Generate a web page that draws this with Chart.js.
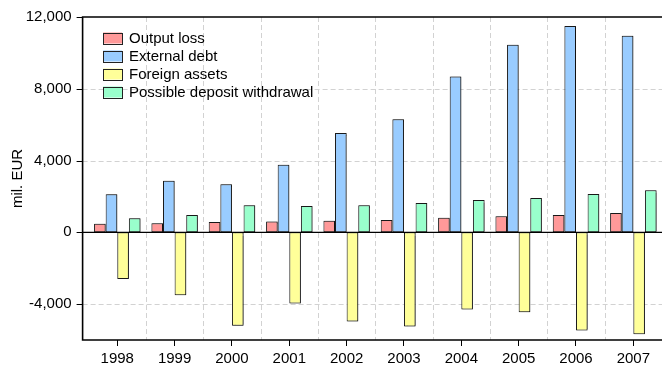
<!DOCTYPE html>
<html>
<head>
<meta charset="utf-8">
<script src="https://cdn.jsdelivr.net/npm/chart.js@4/dist/chart.umd.min.js"></script>
<style>
  html, body { margin: 0; padding: 0; background: #fff; }
  #wrap { width: 662px; height: 367px; }
</style>
</head>
<body>
<div id="wrap"><canvas id="c" width="662" height="367"></canvas></div>
<script>
// Years on the horizontal axis
const years = ['1998', '1999', '2000', '2001', '2002', '2003', '2004', '2005', '2006', '2007'];

// Series, mil. EUR
const outputLoss        = [480, 500, 580, 610, 650, 690, 810, 890, 970, 1080];
const externalDebt      = [2120, 2880, 2680, 3760, 5530, 6300, 8680, 10450, 11500, 10950];
const foreignAssets     = [-2600, -3500, -5210, -3960, -4970, -5250, -4300, -4460, -5470, -5680];
const depositWithdrawal = [780, 970, 1510, 1470, 1510, 1640, 1800, 1910, 2140, 2340];

// Labelled values on the vertical axis
const yTicks = [-4000, 0, 4000, 8000, 12000];
const yMin = -6000;
const yMax = 12000;

const FONT = "'Liberation Sans', Arial, sans-serif";
const AXIS_GAP = 6; // the value axis sits a little left of the first category

// Grid, axis frame, shadows and the in-plot legend
const framePlugin = {
  id: 'frame',
  beforeDatasetsDraw(chart) {
    const { ctx, chartArea: a, scales: { x, y } } = chart;
    const axisX = a.left - AXIS_GAP;
    ctx.save();
    ctx.strokeStyle = '#d2d2d2';
    ctx.lineWidth = 1;
    ctx.setLineDash([5, 3]);
    // horizontal dashed lines
    yTicks.forEach(v => {
      if (v === 0 || v === yMax) return;
      const py = Math.round(y.getPixelForValue(v)) + 0.5;
      ctx.beginPath();
      ctx.moveTo(axisX, py);
      ctx.lineTo(a.right, py);
      ctx.stroke();
    });
    // vertical dashed lines between years
    for (let i = 1; i < years.length; i++) {
      const px = Math.round((x.getPixelForValue(i - 1) + x.getPixelForValue(i)) / 2) + 0.5;
      ctx.beginPath();
      ctx.moveTo(px, a.top);
      ctx.lineTo(px, a.bottom);
      ctx.stroke();
    }
    ctx.restore();

    // soft shadow behind the bars
    ctx.save();
    ctx.shadowColor = 'rgba(0,0,0,0.45)';
    ctx.shadowOffsetX = 1;
    ctx.shadowOffsetY = 0;
    ctx.shadowBlur = 1;
  },
  afterDatasetsDraw(chart) {
    const { ctx, chartArea: a, scales: { y } } = chart;
    ctx.restore();
    const axisX = a.left - AXIS_GAP;
    ctx.save();
    ctx.strokeStyle = '#000';
    ctx.setLineDash([]);

    // zero line
    ctx.lineWidth = 1.2;
    const zy = y.getPixelForValue(0);
    ctx.beginPath();
    ctx.moveTo(axisX, zy);
    ctx.lineTo(a.right, zy);
    ctx.stroke();

    // frame: top, left, bottom
    ctx.lineWidth = 1.6;
    ctx.beginPath();
    ctx.moveTo(a.right, a.top);
    ctx.lineTo(axisX, a.top);
    ctx.lineTo(axisX, a.bottom);
    ctx.lineTo(a.right, a.bottom);
    ctx.stroke();

    // value-axis tick marks
    ctx.lineWidth = 1;
    yTicks.forEach(v => {
      const py = Math.round(y.getPixelForValue(v)) + 0.5;
      ctx.beginPath();
      ctx.moveTo(axisX - 6, py);
      ctx.lineTo(axisX, py);
      ctx.stroke();
    });

    // legend
    const lx = 103, ly = 38, step = 18, bw = 19, bh = 11;
    ctx.font = '15px ' + FONT;
    ctx.textBaseline = 'middle';
    ctx.textAlign = 'left';
    chart.data.datasets.forEach((ds, i) => {
      const cy = ly + i * step;
      ctx.fillStyle = ds.backgroundColor;
      ctx.fillRect(lx, cy - bh / 2, bw, bh);
      ctx.lineWidth = 1;
      ctx.strokeStyle = '#222';
      ctx.strokeRect(lx + 0.5, Math.round(cy - bh / 2) + 0.5, bw, bh);
      ctx.fillStyle = '#000';
      ctx.fillText(ds.label, lx + 26, cy + 1);
    });
    ctx.restore();
  }
};

const barStyle = {
  borderColor: '#1a1a1a',
  borderWidth: 1,
  borderSkipped: false,
  barPercentage: 1.0,
  categoryPercentage: 0.81
};

new Chart(document.getElementById('c'), {
  type: 'bar',
  data: {
    labels: years,
    datasets: [
      Object.assign({ label: 'Output loss', data: outputLoss, backgroundColor: '#ff9999' }, barStyle),
      Object.assign({ label: 'External debt', data: externalDebt, backgroundColor: '#99ccff' }, barStyle),
      Object.assign({ label: 'Foreign assets', data: foreignAssets, backgroundColor: '#ffff99' }, barStyle),
      Object.assign({ label: 'Possible deposit withdrawal', data: depositWithdrawal, backgroundColor: '#99ffcc' }, barStyle)
    ]
  },
  options: {
    responsive: false,
    animation: false,
    devicePixelRatio: 1,
    layout: { padding: { top: 17, right: 0, bottom: 0, left: 0 } },
    plugins: {
      legend: { display: false },
      tooltip: { enabled: false }
    },
    scales: {
      x: {
        offset: true,
        border: { display: false },
        grid: {
          offset: false,
          drawOnChartArea: false,
          drawTicks: true,
          tickLength: 6,
          color: '#000',
          lineWidth: 1
        },
        ticks: {
          padding: 4,
          color: '#000',
          font: { family: FONT, size: 15 },
          maxRotation: 0
        },
        afterFit(scale) {
          scale.height = 27;
          scale.paddingLeft = 0;
          scale.paddingRight = 0;
        }
      },
      y: {
        min: yMin,
        max: yMax,
        border: { display: false },
        grid: { display: false, drawTicks: false },
        afterBuildTicks(scale) { scale.ticks = yTicks.map(v => ({ value: v })); },
        ticks: {
          padding: 17,
          color: '#000',
          font: { family: FONT, size: 15 },
          callback: v => Number(v).toLocaleString('en-US')
        },
        title: {
          display: true,
          text: 'mil. EUR',
          color: '#000',
          font: { family: FONT, size: 15 },
          padding: { top: 9, bottom: 0 }
        },
        afterFit(scale) {
          scale.width = 88.6;
          scale.paddingTop = 0;
          scale.paddingBottom = 0;
        }
      }
    }
  },
  plugins: [framePlugin]
});
</script>
</body>
</html>
